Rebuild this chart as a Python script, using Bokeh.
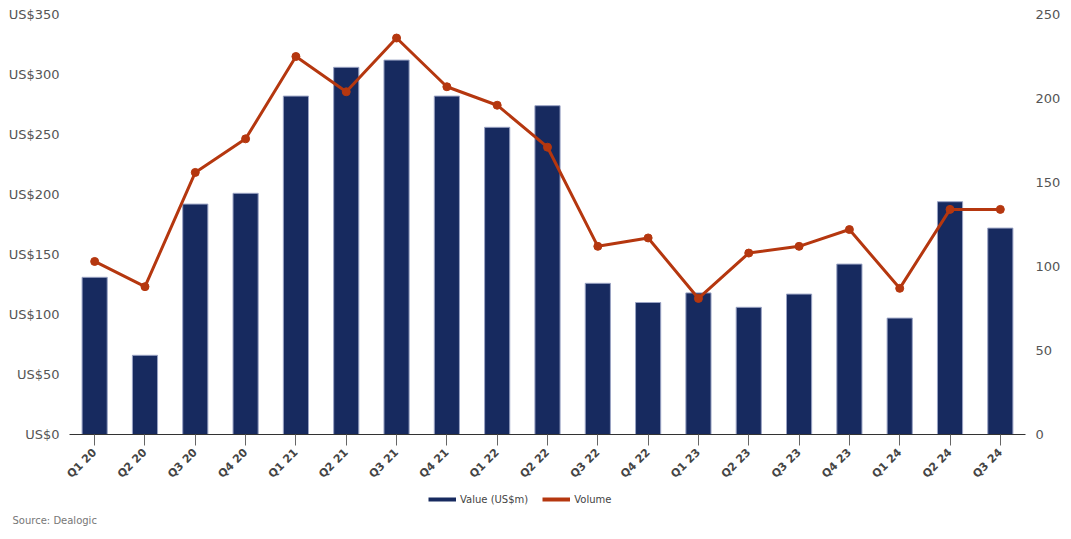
import math
from bokeh.plotting import figure
from bokeh.models import (FactorRange, Range1d, LinearAxis, PrintfTickFormatter,
                          Legend, LegendItem, Label, SingleIntervalTicker, ColumnDataSource)
from bokeh.embed import file_html
from bokeh.resources import INLINE

quarters = ["Q1 20", "Q2 20", "Q3 20", "Q4 20", "Q1 21", "Q2 21", "Q3 21", "Q4 21",
            "Q1 22", "Q2 22", "Q3 22", "Q4 22", "Q1 23", "Q2 23", "Q3 23", "Q4 23",
            "Q1 24", "Q2 24", "Q3 24"]
value_usd_m = [131, 66, 192, 201, 282, 306, 312, 282, 256, 274, 126, 110, 118, 106,
               117, 142, 97, 194, 172]
volume = [103, 88, 156, 176, 225, 204, 236, 207, 196, 171, 112, 117, 81, 108, 112,
          122, 87, 134, 134]
series_names = ["Value (US$m)", "Volume"]
source_note = "Source: Dealogic"

NAVY = "#172a5f"
RUST = "#b5370f"
FONT = "DejaVu Sans"

src = ColumnDataSource(dict(q=quarters, v=value_usd_m, n=volume))

p = figure(x_range=FactorRange(factors=quarters, range_padding=0),
           y_range=Range1d(0, 350), width=1071, height=488,
           output_backend="svg", toolbar_location=None,
           min_border_left=69, min_border_right=46, min_border_top=14,
           min_border_bottom=54)
p.extra_y_ranges = {"vol": Range1d(0, 250)}
p.outline_line_color = None
p.grid.grid_line_color = None

p.vbar(x="q", top="v", width=0.5, source=src, fill_color=NAVY,
       line_color="#9aa3c4", line_width=1)
p.line(x="q", y="n", source=src, y_range_name="vol", line_color=RUST, line_width=3)
p.scatter(x="q", y="n", source=src, y_range_name="vol", size=8, fill_color=RUST,
          line_color=RUST)

# left axis
ya = p.yaxis[0]
ya.ticker = SingleIntervalTicker(interval=50)
ya.formatter = PrintfTickFormatter(format="US$%d")
ya.axis_line_color = None
ya.major_tick_line_color = None
ya.minor_tick_line_color = None
ya.major_label_text_font = FONT
ya.major_label_text_font_size = "13px"
ya.major_label_text_color = "#555555"
ya.major_label_standoff = 4

# right axis
ra = LinearAxis(y_range_name="vol", ticker=SingleIntervalTicker(interval=50))
ra.axis_line_color = None
ra.major_tick_line_color = None
ra.minor_tick_line_color = None
ra.major_label_text_font = FONT
ra.major_label_text_font_size = "13px"
ra.major_label_text_color = "#555555"
ra.major_label_standoff = 4
p.add_layout(ra, "right")

# x axis
xa = p.xaxis[0]
xa.axis_line_color = "#333333"
xa.axis_line_width = 1
xa.major_tick_line_color = "#666666"
xa.major_tick_out = 11
xa.major_tick_in = 0
xa.major_label_orientation = math.pi / 4
xa.major_label_text_font = FONT
xa.major_label_text_font_style = "bold"
xa.major_label_text_font_size = "11px"
xa.major_label_text_color = "#444444"
xa.major_label_standoff = 5

# footer with legend and source note (separate root, no frame alignment)
f = figure(width=1071, height=48, x_range=Range1d(0, 1), y_range=Range1d(0, 1),
           output_backend="svg", toolbar_location=None,
           min_border_left=0, min_border_right=0, min_border_top=0, min_border_bottom=0)
f.axis.visible = False
f.grid.grid_line_color = None
f.outline_line_color = None
lv = f.line(x=[-5, -4], y=[-5, -4], line_color=NAVY, line_width=4)
ln = f.line(x=[-5, -4], y=[-5, -4], line_color=RUST, line_width=4)

legend = Legend(items=[LegendItem(label=series_names[0], renderers=[lv]),
                       LegendItem(label=series_names[1], renderers=[ln])],
                orientation="horizontal", location=(428, 31),
                label_text_font=FONT, label_text_font_size="10px",
                label_text_color="#444444", border_line_color=None,
                background_fill_alpha=0, glyph_width=28, glyph_height=12,
                label_standoff=4, spacing=14, padding=2, margin=0)
f.add_layout(legend, "center")

f.add_layout(Label(x=12, y=16, x_units="screen", y_units="screen",
                   text=source_note, text_font=FONT, text_font_size="10px",
                   text_color="#777777", text_baseline="middle", text_align="left"))

open("out.html", "w").write(file_html([p, f], INLINE))
